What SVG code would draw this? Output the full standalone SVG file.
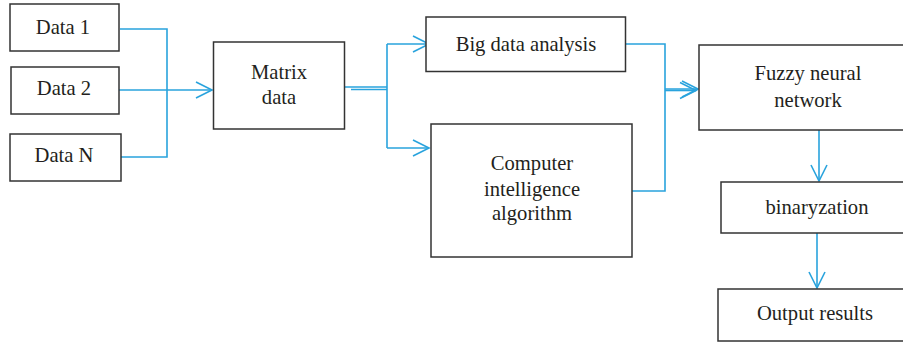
<svg xmlns="http://www.w3.org/2000/svg" width="903" height="345" viewBox="0 0 903 345">
<style>
.box{fill:#fff;stroke:#333;stroke-width:1.5}
.t{font-family:"Liberation Serif","Times New Roman",serif;font-size:20.6px;fill:#231f20;text-anchor:middle}
.c{fill:none;stroke:#29a3dd;stroke-width:1.6}
.h{fill:none;stroke:#29a3dd;stroke-width:1.6}
</style>
<defs>
<marker id="ah" markerUnits="userSpaceOnUse" markerWidth="20" markerHeight="20" refX="16" refY="8" orient="auto" overflow="visible">
<path d="M0,0 L16,8 L0,16" class="h"/>
</marker>
</defs>
<rect width="903" height="345" fill="#fff"/>
<g id="connectors">
<path class="c" d="M120,29 H167 V157 H121"/>
<path class="c" d="M119,90 H212" marker-end="url(#ah)"/>
<path class="c" d="M344,87 H387"/>
<path class="c" d="M351,89.5 H387"/>
<path class="c" d="M387,44 V148"/>
<path class="c" d="M387,44 H429" marker-end="url(#ah)"/>
<path class="c" d="M387,148 H429" marker-end="url(#ah)"/>
<path class="c" d="M625,44 H665 V191 H632"/>
<path class="c" d="M665,89 H698" marker-end="url(#ah)"/>
<path class="c" d="M665,90.5 H696" marker-end="url(#ah)"/>
<path class="c" d="M819,130 V181" marker-end="url(#ah)"/>
<path class="c" d="M817,233 V288" marker-end="url(#ah)"/>
</g>
<g id="data1"><rect class="box" x="10" y="4" width="109" height="47"/><text class="t" x="63" y="34">Data 1</text></g>
<g id="data2"><rect class="box" x="11" y="67" width="108" height="47"/><text class="t" x="64" y="95">Data 2</text></g>
<g id="dataN"><rect class="box" x="10" y="134" width="111" height="47"/><text class="t" x="64" y="162">Data N</text></g>
<g id="matrix"><rect class="box" x="213.5" y="42" width="131" height="87"/><text class="t" x="279" y="79">Matrix</text><text class="t" x="279" y="104">data</text></g>
<g id="bigdata"><rect class="box" x="426" y="17" width="199.5" height="54.5"/><text class="t" x="526" y="51">Big data analysis</text></g>
<g id="computer"><rect class="box" x="431" y="124" width="201" height="133"/><text class="t" x="532" y="170">Computer</text><text class="t" x="532" y="196">intelligence</text><text class="t" x="532" y="220">algorithm</text></g>
<g id="fuzzy"><rect class="box" x="699" y="45" width="210" height="85"/><text class="t" x="808" y="80">Fuzzy neural</text><text class="t" x="808" y="107">network</text></g>
<g id="binary"><rect class="box" x="721" y="182" width="190" height="51"/><text class="t" x="817" y="214">binaryzation</text></g>
<g id="output"><rect class="box" x="718" y="289" width="190" height="52"/><text class="t" x="815" y="320">Output results</text></g>
</svg>
